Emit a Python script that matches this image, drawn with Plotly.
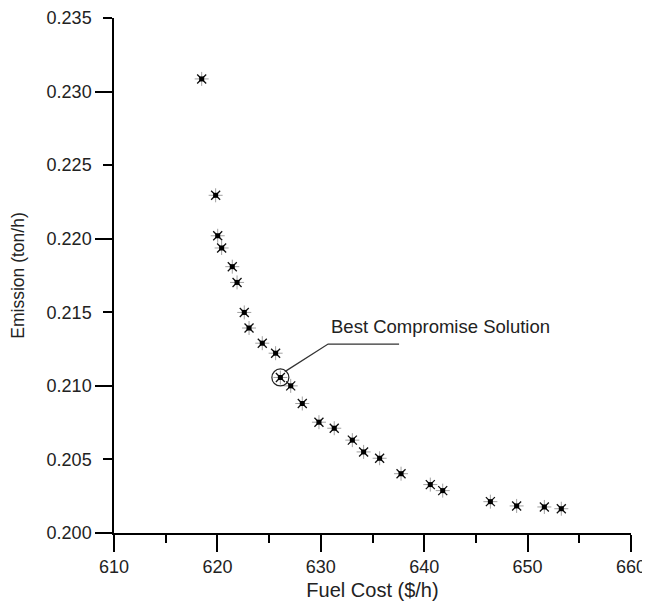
import plotly.graph_objects as go

fuel_cost = [618.48, 619.83, 620.03, 620.41, 621.44, 621.90, 622.60, 623.06, 624.34,
             625.63, 626.09, 627.09, 628.21, 629.82, 631.30, 633.05, 634.14, 635.69,
             637.76, 640.59, 641.79, 646.40, 648.94, 651.62, 653.26]
emission = [0.23086, 0.22295, 0.22020, 0.21937, 0.21810, 0.21703, 0.21499, 0.21393,
            0.21290, 0.21222, 0.21057, 0.21000, 0.20880, 0.20753, 0.20712, 0.20631,
            0.20551, 0.20508, 0.20403, 0.20329, 0.20288, 0.20213, 0.20184, 0.20177,
            0.20165]
best_index = 10
best_label = "Best Compromise Solution"
x_title = "Fuel Cost ($/h)"
y_title = "Emission (ton/h)"
x_tickvals = [610, 620, 630, 640, 650, 660]
y_tickvals = [0.200, 0.205, 0.210, 0.215, 0.220, 0.225, 0.230, 0.235]
y_ticktext = ["0.200", "0.205", "0.210", "0.215", "0.220", "0.225", "0.230", "0.235"]

FONT = "Liberation Sans, Arial, sans-serif"
TXT = "#222222"

fig = go.Figure()
# gray cardinal spikes
fig.add_trace(go.Scatter(x=fuel_cost, y=emission, mode="markers", showlegend=False,
                         marker=dict(symbol="cross-thin-open", size=10, color="#a0a0a0",
                                     line=dict(color="#a0a0a0", width=1))))
# dark diagonal spikes
fig.add_trace(go.Scatter(x=fuel_cost, y=emission, mode="markers", showlegend=False,
                         marker=dict(symbol="x-thin-open", size=9, color="#111111",
                                     line=dict(color="#111111", width=1.3))))
# black core
fig.add_trace(go.Scatter(x=fuel_cost, y=emission, mode="markers", showlegend=False,
                         marker=dict(symbol="square", size=5, color="black",
                                     line=dict(width=0))))
# circle around best compromise
fig.add_trace(go.Scatter(x=[fuel_cost[best_index]], y=[emission[best_index]],
                         mode="markers", showlegend=False,
                         marker=dict(symbol="circle-open", size=17, color="#222222",
                                     line=dict(color="#222222", width=1.2))))
# invisible trace for the secondary y axis (long major ticks)
fig.add_trace(go.Scatter(x=[fuel_cost[0]], y=[emission[0]], yaxis="y2", mode="markers",
                         showlegend=False, marker=dict(opacity=0), hoverinfo="skip"))

bx, by = fuel_cost[best_index], emission[best_index]
fig.add_shape(type="path", xref="x", yref="y", xsizemode="pixel", ysizemode="pixel",
              xanchor=bx, yanchor=by,
              path="M 4.5,5.8 L 47.7,33.4 L 118.7,33.4",
              line=dict(color="#333333", width=1.3))
fig.add_annotation(x=bx, y=by, xref="x", yref="y", text=best_label, showarrow=False,
                   xanchor="left", yanchor="middle", xshift=49, yshift=51,
                   font=dict(family=FONT, size=18.5, color=TXT))

fig.update_layout(
    width=650, height=593,
    margin=dict(l=106, r=27, t=10, b=68, autoexpand=False),
    plot_bgcolor="white", paper_bgcolor="white",
    font=dict(family=FONT, size=18, color=TXT),
    xaxis=dict(range=[610, 660], tickvals=x_tickvals, ticks="outside", ticklen=17,
               tickwidth=1.5, tickcolor="black", showline=True, linecolor="black",
               linewidth=1.5, showgrid=False, zeroline=False, automargin=False,
               minor=dict(dtick=5, tick0=610, ticks="outside", ticklen=8,
                          tickwidth=1.5, tickcolor="black", showgrid=False),
               title=dict(text=x_title, font=dict(family=FONT, size=20, color=TXT),
                          standoff=9)),
    yaxis=dict(range=[0.2, 0.235], tickvals=y_tickvals, ticktext=y_ticktext,
               ticks="outside", ticklen=9, tickwidth=1.5, tickcolor="black",
               showline=True, linecolor="black", linewidth=1.5, showgrid=False,
               zeroline=False, ticklabelstandoff=8, automargin=False,
               title=dict(text=y_title, font=dict(family=FONT, size=17.5, color=TXT),
                          standoff=25)),
    yaxis2=dict(range=[0.2, 0.235], overlaying="y", side="left", anchor="x",
                tickvals=[0.20, 0.21, 0.22, 0.23], showticklabels=False,
                ticks="outside", ticklen=18, tickwidth=1.5, tickcolor="black",
                showline=False, showgrid=False, zeroline=False, automargin=False),
)

fig.write_html("out.html")
